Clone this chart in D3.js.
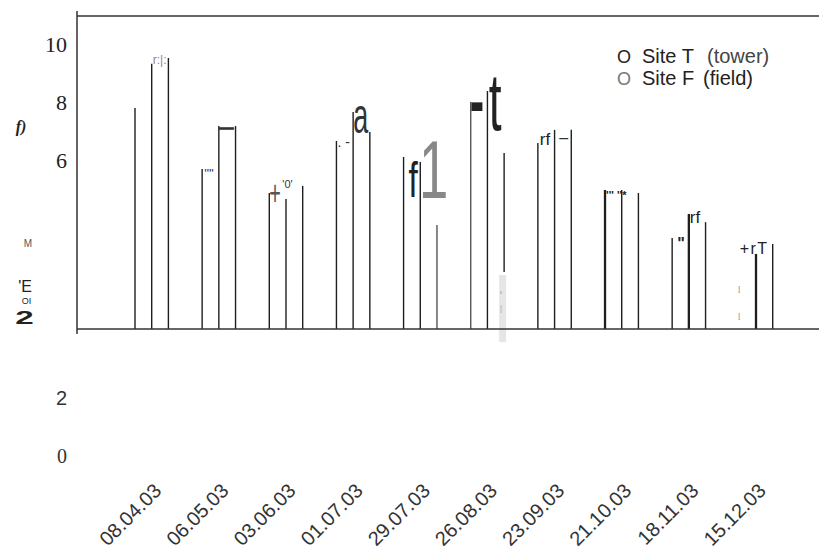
<!DOCTYPE html>
<html>
<head>
<meta charset="utf-8">
<script src="https://cdn.jsdelivr.net/npm/d3@7"></script>
<style>
  html, body { margin: 0; padding: 0; background: #fff; }
  svg { display: block; }
</style>
</head>
<body>
<svg id="chart" width="819" height="552"></svg>
<script>
// Sampling dates (dd.mm.yy)
const dates = ["08.04.03", "06.05.03", "03.06.03", "01.07.03", "29.07.03",
               "26.08.03", "23.09.03", "21.10.03", "18.11.03", "15.12.03"];

// Site T (tower) values
const siteT = [7.57, 5.48, 4.66, 6.44, 5.89, 7.77, 6.37, 4.76, 3.12, null];
// Site F (field) values
const siteF = [9.08, 6.95, 4.45, 7.43, 5.72, 8.15, 6.82, 4.76, 3.94, 2.57];
// Outer edge of the field bar
const siteFEdge = [9.28, 6.95, 4.90, 6.75, 3.56, 6.03, 6.82, 4.66, 3.66, 2.91];
// Lower end of the outer edge (0 = axis)
const edgeFloor = [0, 0, 0, 0, 0, 1.95, 0, 0, 0, 0];

// Axis tick labels
const upperTicks = [10, 8, 6];
const lowerTicks = [2, 0];

// Legend entries
const legendMarks = ["O", "O"];
const legendNames = ["Site T", "Site F"];
const legendNotes = ["(tower)", "(field)"];

const svg = d3.select("#chart");

const x = d3.scalePoint().domain(dates).range([151.7, 756]);
const sub = d3.scalePoint().domain(["T", "F", "E"]).range([-16.7, 16.7]);
const y = d3.scaleLinear().domain([0, 10]).range([329, 37]);

const frame = svg.append("g").attr("stroke", "#333").attr("stroke-width", 1.5);
frame.append("line").attr("x1", 77).attr("x2", 819).attr("y1", 16).attr("y2", 16);
frame.append("line").attr("x1", 77).attr("x2", 77).attr("y1", 11).attr("y2", 334);

// Vertical bar edges
const edges = [];
dates.forEach((d, i) => {
  if (siteT[i] != null) edges.push({ d, key: "T", lo: 0, hi: siteT[i] });
  edges.push({ d, key: "F", lo: 0, hi: siteF[i] });
  edges.push({ d, key: "E", lo: edgeFloor[i], hi: siteFEdge[i] });
});
const heavy = new Set(["21.10.03|T", "18.11.03|F", "15.12.03|F"]);
const softer = new Set(["26.08.03|T", "29.07.03|E"]);

// light strip beneath the shortened edge of 26.08.03
const stripX = x("26.08.03") + sub("E");
svg.append("rect")
  .attr("x", stripX - 5).attr("width", 7)
  .attr("y", y(1.85)).attr("height", y(-0.45) - y(1.85))
  .attr("fill", "#e6e6e6");
svg.append("rect").attr("x", stripX - 4).attr("width", 2)
  .attr("y", y(1.3)).attr("height", 3).attr("fill", "#c4c4c4");
svg.append("rect").attr("x", stripX - 4).attr("width", 2)
  .attr("y", y(0.82)).attr("height", 8).attr("fill", "#cfcfcf");

svg.append("g").selectAll("line").data(edges).join("line")
  .attr("x1", e => x(e.d) + sub(e.key))
  .attr("x2", e => x(e.d) + sub(e.key))
  .attr("y1", e => y(e.lo))
  .attr("y2", e => y(e.hi))
  .attr("stroke", e => softer.has(e.d + "|" + e.key) ? "#555" : "#1e1e1e")
  .attr("stroke-width", e => heavy.has(e.d + "|" + e.key) ? 2.3 : 1.4);

// baseline
svg.append("line").attr("x1", 77).attr("x2", 819).attr("y1", y(0)).attr("y2", y(0))
  .attr("stroke", "#333").attr("stroke-width", 1.5);

// Glyph annotations sitting on the bar tops
const topOf = (d, key) => {
  const i = dates.indexOf(d);
  return y(key === "T" ? siteT[i] : key === "F" ? siteF[i] : siteFEdge[i]);
};
const notes = [
  { t: "r:|:", d: "08.04.03", k: "F", dx: 1, dy: 0, fs: 12, fill: "#8a8a8a" },
  { t: "'\"'", d: "06.05.03", k: "T", dx: 2, dy: 9, fs: 13, fill: "#333" },
  { t: "\u2014", d: "06.05.03", k: "F", dx: 0.5, dy: 6, fs: 14, fill: "#333", stroke: 1.3 },
  { t: "+", d: "03.06.03", k: "T", dx: 0, dy: 12, fs: 22, sx: 0.9, sy: 1.6, fill: "#555" },
  { t: "'0'", d: "03.06.03", k: "F", dx: -3.7, dy: -11, fs: 11, fill: "#333" },
  { t: ". -", d: "01.07.03", k: "T", dx: 1, dy: 6, fs: 14, fill: "#333" },
  { t: "a", d: "01.07.03", k: "F", dx: 0, dy: 21, fs: 50, sx: 0.54, fill: "#333" },
  { t: "f", d: "29.07.03", k: "T", dx: 5, dy: 40, fs: 50, sx: 0.67, fill: "#222" },
  { t: "1", d: "29.07.03", k: "F", dx: -1.3, dy: 36, fs: 81, sx: 0.65, fill: "#888" },
  { t: "-", d: "26.08.03", k: "T", dx: -1, dy: 23, fs: 36, sx: 1.2, sy: 2, fill: "#222", bold: true },
  { t: "t", d: "26.08.03", k: "F", dx: 1.3, dy: 39, fs: 81, sx: 0.57, fill: "#222" },
  { t: "rf", d: "23.09.03", k: "T", dx: 2, dy: 2, fs: 17, fill: "#222" },
  { t: "\u2013", d: "23.09.03", k: "F", dx: 4.7, dy: 13, fs: 16, fill: "#333" },
  { t: "''' ''*", d: "21.10.03", k: "T", dx: 1, dy: 9, fs: 11, fill: "#222", bold: true },
  { t: "\"", d: "18.11.03", k: "T", dx: 5, dy: 11, fs: 16, fill: "#222", bold: true },
  { t: "rf", d: "18.11.03", k: "F", dx: 1, dy: 9, fs: 17, fill: "#222" },
  { t: "+rT", d: "15.12.03", k: "F", dx: -16.3, dy: 0, fs: 16, fill: "#222", ls: 1.5 }
];
const noteG = svg.append("g").attr("font-family", "'Liberation Sans', Arial, sans-serif");
notes.forEach(n => {
  const px = x(n.d) + sub(n.k) + n.dx;
  const py = topOf(n.d, n.k) + n.dy;
  const t = noteG.append("text")
    .attr("transform", `translate(${px},${py}) scale(${n.sx || 1},${n.sy || 1})`)
    .attr("font-size", n.fs)
    .attr("fill", n.fill)
    .attr("font-weight", n.bold ? "bold" : "normal")
    .text(n.t);
  if (n.stroke) t.attr("stroke", n.fill).attr("stroke-width", n.stroke);
  if (n.ls) t.attr("letter-spacing", n.ls);
});
// faint marks under the last date
[36, 9].forEach(off => {
  svg.append("text")
    .attr("x", x("15.12.03") + sub("T") - 1.5).attr("y", y(0) - off)
    .attr("font-family", "'Liberation Serif', serif").attr("font-size", 10)
    .attr("fill", "#999").text("l");
});

// Y tick labels
svg.append("g").selectAll("text").data(upperTicks).join("text")
  .attr("x", 67).attr("y", v => y(v) + 14.5)
  .attr("text-anchor", "end")
  .attr("font-family", "'Liberation Serif', 'Times New Roman', serif")
  .attr("font-size", 22).attr("fill", "#222")
  .text(v => v);
svg.append("g").selectAll("text").data(lowerTicks).join("text")
  .attr("x", 67).attr("y", v => y(v) + 134)
  .attr("text-anchor", "end")
  .attr("font-family", (v, i) => i === 0 ? "'Liberation Sans', Arial, sans-serif" : "'Liberation Serif', serif")
  .attr("font-size", 20).attr("fill", "#333")
  .text(v => v);

// Y axis title fragments
const yTitle = svg.append("g").attr("text-anchor", "middle").attr("fill", "#222");
yTitle.append("text").attr("x", 21).attr("y", 132)
  .attr("font-family", "'Liberation Serif', serif").attr("font-weight", "bold")
  .attr("font-style", "italic").attr("font-size", 16).text("f)");
yTitle.append("text").attr("x", 28).attr("y", 247)
  .attr("font-family", "'Liberation Sans', sans-serif").attr("font-size", 10)
  .attr("fill", "#555").text("M");
yTitle.append("text").attr("x", 25).attr("y", 291.5)
  .attr("font-family", "'Liberation Sans', sans-serif").attr("font-size", 16).text("'E");
yTitle.append("text").attr("x", 26.5).attr("y", 304)
  .attr("font-family", "'Liberation Sans', sans-serif").attr("font-size", 9).text("OI");
yTitle.append("text").attr("transform", "translate(24.5,324) scale(1.75,1)")
  .attr("font-family", "'Liberation Sans', sans-serif").attr("font-weight", "bold")
  .attr("font-size", 19).text("2");

// X labels
svg.append("g").selectAll("text").data(dates).join("text")
  .attr("transform", d => `translate(${x(d) + 11},492) rotate(-45)`)
  .attr("text-anchor", "end")
  .attr("font-family", "'Liberation Sans', Arial, sans-serif")
  .attr("font-size", 20).attr("fill", "#333")
  .text(d => d);

// Legend
const legend = svg.append("g").attr("font-family", "'Liberation Sans', Arial, sans-serif")
  .attr("font-size", 20);
legendMarks.forEach((m, i) => {
  const by = 63 + i * 22;
  legend.append("text").attr("x", 617).attr("y", by).attr("font-size", 18)
    .attr("fill", i === 0 ? "#222" : "#777").text(m);
  legend.append("text").attr("x", 642).attr("y", by).attr("fill", "#222").text(legendNames[i]);
  legend.append("text").attr("x", i === 0 ? 707 : 703).attr("y", by)
    .attr("fill", i === 0 ? "#444" : "#222").text(legendNotes[i]);
});
</script>
</body>
</html>
